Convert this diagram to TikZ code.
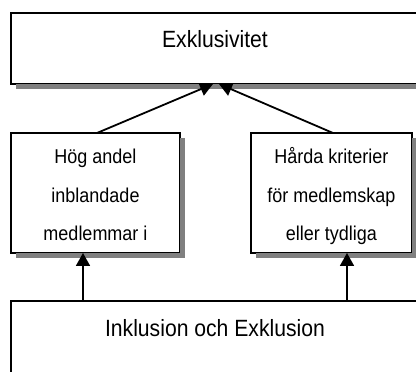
\documentclass[tikz,border=0pt]{standalone}
\usepackage{fontspec}
\setmainfont[FakeStretch=0.9]{Liberation Sans}
\usetikzlibrary{arrows.meta,calc}
\definecolor{shadowgray}{RGB}{128,128,128}

\begin{document}
\begin{tikzpicture}[x=1pt,y=1pt,
  box/.style={draw=black, line width=2pt, fill=white, rectangle, inner sep=0pt, outer sep=0pt},
  boxshadow/.style={draw=shadowgray, line width=5pt},
  bigtext/.style={font=\fontsize{23.5}{28}\selectfont, text height=16pt},
  smalltext/.style={font=\fontsize{20}{38.3}\selectfont, align=center, text height=96pt, text depth=0.8pt},
  link/.style={line width=1.8pt, -{Triangle[length=13pt,width=14pt]}}]
\useasboundingbox (0,0) rectangle (416,372);

% boxes
\node[box, bigtext, text depth=17pt, minimum width=408pt, minimum height=71pt] (excl) at (215,323.5) {Exklusivitet};
\node[box, smalltext, minimum width=169pt, minimum height=120pt] (hog) at (95.5,179) {Hög andel\\inblandade\\medlemmar i};
\node[box, smalltext, minimum width=161pt, minimum height=120pt] (hard) at (331.5,179) {Hårda kriterier\\för medlemskap\\eller tydliga};
\node[box, bigtext, text depth=19pt, minimum width=408pt, minimum height=75pt] (incl) at (215,33.8) {Inklusion och Exklusion};

% drop shadows: thick grey strokes along the lower and right sides
\draw[boxshadow] ($(excl.south west)+(4.5,-2.5)$) -- ($(excl.south east)+(2.5,-2.5)$) -- ($(excl.north east)+(2.5,-5)$);
\draw[boxshadow] ($(hog.south west)+(4.5,-2.5)$) -- ($(hog.south east)+(2.5,-2.5)$) -- ($(hog.north east)+(2.5,-5)$);
\draw[boxshadow] ($(hard.south west)+(4.5,-2.5)$) -- ($(hard.south east)+(2.5,-2.5)$) -- ($(hard.north east)+(2.5,-5)$);

% upward links into the middle boxes
\coordinate (hl) at ($(hog.south)+(-12.5,0)$);
\coordinate (hr) at ($(hard.south)+(15.5,0)$);
\draw[link] (hl |- incl.north) -- (hl);
\draw[link] (hr |- incl.north) -- (hr);

% links into the top box, cut off at its lower edge
\begin{scope}
  \clip (0,0) rectangle (excl.south east);
  \draw[link] ($(hog.north)+(1.5,0)$) -- ($(excl.south)+(-2,0)$);
  \draw[link] ($(hard.north)+(1.5,0)$) -- ($(excl.south)+(4,0)$);
\end{scope}
\end{tikzpicture}
\end{document}
